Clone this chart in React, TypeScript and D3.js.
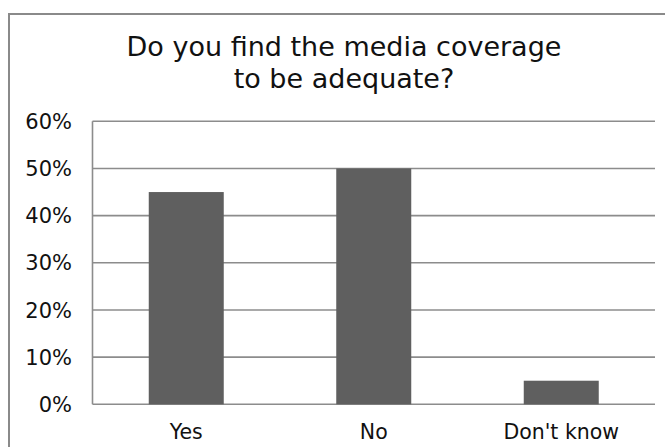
import React, { useEffect, useRef } from "react";
import * as d3 from "d3";

// Survey answers and their shares
const categories = ["Yes", "No", "Don't know"];
const shares = [0.45, 0.5, 0.05];
const tickValues = [0, 0.1, 0.2, 0.3, 0.4, 0.5, 0.6];
const titleLines = ["Do you find the media coverage", "to be adequate?"];

const W = 665;
const H = 447;
const FONT = "'DejaVu Sans', Verdana, sans-serif";

export default function App() {
  const ref = useRef<SVGSVGElement | null>(null);

  useEffect(() => {
    const svg = d3.select(ref.current);
    svg.selectAll("*").remove();

    const left = 92.5;
    const right = 655;
    const top = 121.3;
    const bottom = 404.3;

    // chart frame
    svg
      .append("rect")
      .attr("x", 9)
      .attr("y", 14)
      .attr("width", 800)
      .attr("height", 600)
      .attr("fill", "#fff")
      .attr("stroke", "#8a8a8a")
      .attr("stroke-width", 2);

    // title
    const title = svg
      .append("text")
      .attr("text-anchor", "middle")
      .attr("font-family", FONT)
      .attr("font-size", 27)
      .attr("fill", "#111");
    titleLines.forEach((line, i) => {
      title
        .append("tspan")
        .attr("x", 344)
        .attr("y", 56 + i * 32)
        .text(line);
    });

    const x = d3
      .scaleBand<string>()
      .domain(categories)
      .range([left, right])
      .paddingInner(0.6)
      .paddingOuter(0.3);

    const y = d3.scaleLinear().domain([0, 0.6]).range([bottom, top]);

    // horizontal gridlines
    svg
      .append("g")
      .selectAll("line")
      .data(tickValues)
      .join("line")
      .attr("x1", left)
      .attr("x2", right)
      .attr("y1", (d) => y(d))
      .attr("y2", (d) => y(d))
      .attr("stroke", "#8c8c8c")
      .attr("stroke-width", 1.6);

    // vertical axis line
    svg
      .append("line")
      .attr("x1", left)
      .attr("x2", left)
      .attr("y1", top)
      .attr("y2", bottom)
      .attr("stroke", "#8c8c8c")
      .attr("stroke-width", 1.6);

    // tick labels
    const fmt = d3.format(".0%");
    svg
      .append("g")
      .selectAll("text")
      .data(tickValues)
      .join("text")
      .attr("x", 72)
      .attr("y", (d) => y(d))
      .attr("dy", "0.36em")
      .attr("text-anchor", "end")
      .attr("font-family", FONT)
      .attr("font-size", 21)
      .attr("fill", "#111")
      .text((d) => fmt(d));

    // bars
    svg
      .append("g")
      .selectAll("rect")
      .data(categories)
      .join("rect")
      .attr("x", (d) => x(d) as number)
      .attr("width", x.bandwidth())
      .attr("y", (_, i) => y(shares[i]))
      .attr("height", (_, i) => bottom - y(shares[i]))
      .attr("fill", "#5f5f5f");

    // category labels
    svg
      .append("g")
      .selectAll("text")
      .data(categories)
      .join("text")
      .attr("x", (d) => (x(d) as number) + x.bandwidth() / 2)
      .attr("y", 439)
      .attr("text-anchor", "middle")
      .attr("font-family", FONT)
      .attr("font-size", 20.5)
      .attr("fill", "#111")
      .text((d) => d);
  }, []);

  return (
    <svg
      ref={ref}
      width={W}
      height={H}
      style={{ position: "absolute", left: 0, top: 0, background: "#fff" }}
    />
  );
}
